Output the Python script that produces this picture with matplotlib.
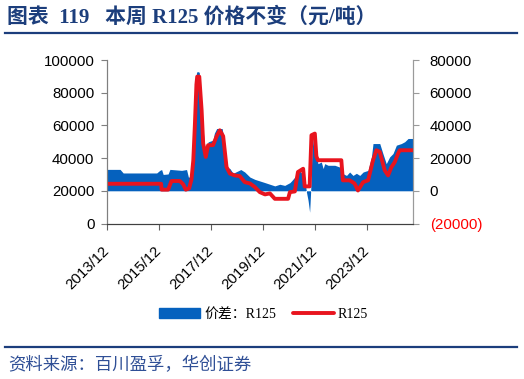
import matplotlib
matplotlib.use("Agg")
import matplotlib.pyplot as plt
from matplotlib.patches import Patch
from matplotlib.lines import Line2D

# ---------------- data (x in decimal years) ----------------
red_x = [2013.92, 2016.00, 2016.02, 2016.27, 2016.40, 2016.72, 2016.85, 2016.95, 2017.08, 2017.17,
         2017.24, 2017.30, 2017.36, 2017.39, 2017.47, 2017.56, 2017.62, 2017.72, 2017.81, 2018.00,
         2018.14, 2018.26, 2018.39, 2018.52, 2018.65, 2018.84, 2019.03, 2019.22, 2019.42, 2019.61,
         2019.80, 2020.00, 2020.19, 2020.38, 2020.89, 2020.96, 2021.15, 2021.21, 2021.27, 2021.47,
         2021.53, 2021.72, 2021.79, 2021.92, 2021.98, 2022.04, 2022.94, 2023.00, 2023.26, 2023.45,
         2023.58, 2023.78, 2023.97, 2024.16, 2024.29, 2024.42, 2024.61, 2024.74, 2024.87, 2025.00,
         2025.12, 2025.19, 2025.70]
red_y = [24300, 24300, 20700, 20700, 26000, 26000, 24000, 20700, 21500, 27000,
         38700, 60000, 85000, 89800, 89800, 69300, 48900, 40700, 47900, 47900,
         53400, 57000, 53400, 34500, 30500, 29400, 29000, 25300, 24500, 22300,
         19200, 17800, 18400, 15100, 15100, 19200, 19600, 26000, 31500, 33500,
         22700, 22700, 54000, 55000, 41000, 38700, 38700, 26400, 26400, 24500,
         20200, 25300, 26400, 38700, 44800, 43800, 32500, 29400, 34500, 37600,
         42600, 44800, 44800]

blue_x = [2013.92, 2014.42, 2014.54, 2015.83, 2015.95, 2016.02, 2016.08, 2016.27, 2016.34, 2016.79,
          2016.98, 2017.05, 2017.15, 2017.24, 2017.30, 2017.36, 2017.39, 2017.47, 2017.56, 2017.62,
          2017.72, 2017.81, 2018.00, 2018.05, 2018.14, 2018.35, 2018.45, 2018.52, 2018.65, 2018.77,
          2019.07, 2019.22, 2019.42, 2019.61, 2020.00, 2020.19, 2020.38, 2020.57, 2020.76, 2020.96,
          2021.02, 2021.15, 2021.33, 2021.53, 2021.59, 2021.66, 2021.72, 2021.76, 2021.81, 2021.89,
          2021.98, 2022.04, 2022.17, 2022.24, 2022.30, 2022.43, 2022.69, 2022.88, 2023.00, 2023.14,
          2023.26, 2023.39, 2023.52, 2023.65, 2023.78, 2023.97, 2024.10, 2024.16, 2024.42, 2024.54,
          2024.67, 2024.80, 2024.93, 2025.06, 2025.25, 2025.38, 2025.51, 2025.70]
blue_y = [13100, 13100, 10900, 10900, 12500, 13000, 10000, 10300, 13100, 12500,
          13000, 8400, 8400, 30000, 45000, 72000, 73000, 72500, 49300, 37000,
          20700, 29900, 31000, 35200, 38100, 38100, 28900, 14500, 13600, 10700,
          13000, 11500, 8400, 7000, 5000, 4000, 3000, 4000, 3300, 5000,
          6000, 8400, 12500, 8400, -200, -5900, -13100, 0, 24800, 36000,
          22800, 16600, 17600, 13600, 16600, 15600, 15600, 14500, 10500, 9400,
          11500, 9400, 10700, 9400, 11500, 12500, 20700, 28900, 28900, 22800,
          16600, 20700, 22800, 27900, 28900, 30000, 32000, 32000]

x_tick_labels = ["2013/12", "2015/12", "2017/12", "2019/12", "2021/12", "2023/12"]
left_ticks = [0, 20000, 40000, 60000, 80000, 100000]
right_ticks = [-20000, 0, 20000, 40000, 60000, 80000]

title = "图表  119   本周 R125 价格不变（元/吨）"
source = "资料来源：百川盈孚，华创证券"
legend_labels = ["价差：R125", "R125"]

BLUE = "#0561be"
RED = "#e8141e"
NAVY = "#1c3e7c"

plt.rcParams['font.family'] = ['Liberation Sans', 'Noto Sans CJK SC']

fig = plt.figure(figsize=(5.24, 3.79), dpi=100)
W, H = 524, 379
ax = fig.add_axes([107 / W, 1 - 223.5 / H, 306 / W, 163.5 / H])
ax2 = ax.twinx()

ax2.fill_between(blue_x, 0, blue_y, color=BLUE, lw=0)
ax.plot(red_x, red_y, color=RED, lw=2.8, solid_joinstyle='round', solid_capstyle='round')
ax.set_zorder(ax2.get_zorder() + 1)
ax.patch.set_visible(False)

ax.set_xlim(red_x[0], red_x[-1])
ax.set_ylim(0, 100000)
ax2.set_ylim(-20000, 80000)

TICK_FS = 10.8
xt = [int(s[:4]) + 11 / 12 for s in x_tick_labels]
ax.set_xticks(xt)
ax.set_xticklabels(x_tick_labels, rotation=45, ha='right', va='center',
                   rotation_mode='anchor', fontsize=TICK_FS)
ax.set_yticks(left_ticks)
ax.set_yticklabels([str(v) for v in left_ticks], fontsize=TICK_FS)
ax2.set_yticks(right_ticks)
rl = ax2.set_yticklabels([f"({-v})" if v < 0 else str(v) for v in right_ticks], fontsize=TICK_FS)
for t, v in zip(rl, right_ticks):
    if v < 0:
        t.set_color('#ff0000')

for a in (ax, ax2):
    a.spines['top'].set_visible(False)
    a.spines['left'].set_color('#7f7f7f')
    a.spines['right'].set_color('#9a9a9a')
    a.spines['bottom'].set_color('#404040')
ax.tick_params(axis='y', length=4, width=0.8, color='#7f7f7f', pad=5)
ax.tick_params(axis='x', length=4, width=0.8, color='#606060', pad=14)
ax2.tick_params(axis='y', length=4, width=0.8, color='#9a9a9a', pad=8)

# title and rules
fig.text(7 / W, 1 - 17 / H, title, fontsize=15, fontweight='bold', color=NAVY,
         family=['Liberation Serif', 'Noto Sans CJK SC'], va='center', ha='left')
fig.add_artist(Line2D([5 / W, 517 / W], [1 - 33 / H, 1 - 33 / H], color=NAVY, lw=1.6))
fig.add_artist(Line2D([5 / W, 517 / W], [1 - 346.5 / H, 1 - 346.5 / H], color=NAVY, lw=1.6))
fig.text(8 / W, 1 - 365 / H, source, fontsize=12.5, color='#2f4f96', style='italic',
         family=['Noto Sans CJK SC'], va='center', ha='left')

handles = [Patch(facecolor=BLUE, edgecolor=BLUE),
           Line2D([], [], color=RED, lw=2.8, solid_capstyle='round')]
fig.legend(handles, legend_labels, loc='center', bbox_to_anchor=(263.5 / W, 1 - 314 / H),
           ncol=2, frameon=False, handlelength=2.95, handleheight=0.75, handletextpad=0.3,
           columnspacing=1.2,
           prop={'family': ['Liberation Serif', 'Noto Sans CJK SC'], 'size': 10})

fig.savefig('out.png', dpi=100)
